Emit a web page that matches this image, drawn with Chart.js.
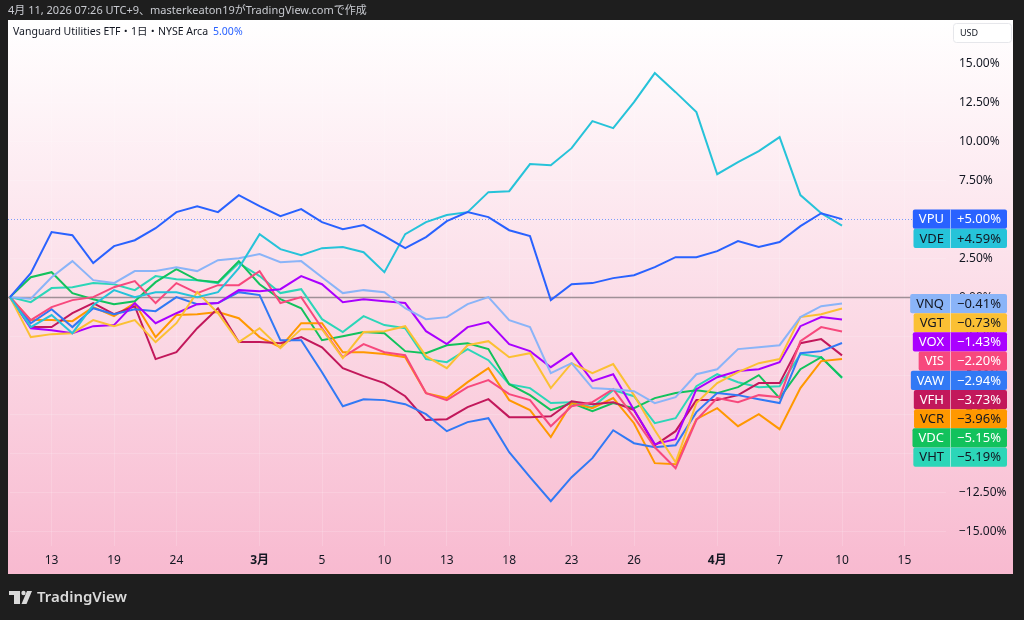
<!DOCTYPE html>
<html lang="ja">
<head>
  <meta charset="UTF-8" />
  <title>Vanguard Sector ETFs - Comparison</title>
  <script src="https://cdn.jsdelivr.net/npm/chart.js"></script>
  <style>
    html, body { margin: 0; padding: 0; background: #1e1e1e; }
    canvas { display: block; }
  </style>
</head>
<body>
  <canvas id="compareChart" width="1024" height="620"></canvas>

  <script>
    // trading days on the time axis (last five are empty future space)
    const days = ['2/11','2/12','2/13','2/17','2/18','2/19','2/20','2/23','2/24','2/25','2/26','2/27',
      '3/2','3/3','3/4','3/5','3/6','3/9','3/10','3/11','3/12','3/13','3/16','3/17','3/18','3/19','3/20',
      '3/23','3/24','3/25','3/26','3/27','3/30','3/31',
      '4/1','4/2','4/6','4/7','4/8','4/9','4/10','4/13','4/14','4/15','4/16','4/17'];
    const xTicks = { '2/13': '13', '2/19': '19', '2/24': '24', '3/2': '3月', '3/5': '5', '3/10': '10',
      '3/13': '13', '3/18': '18', '3/23': '23', '3/26': '26', '4/1': '4月', '4/7': '7', '4/10': '10', '4/15': '15' };
    const monthTicks = ['3月', '4月'];

    const tickers = ['VPU', 'VDE', 'VNQ', 'VGT', 'VOX', 'VIS', 'VAW', 'VFH', 'VCR', 'VDC', 'VHT'];

    // % change since 2/11
    const vpu = [0, 1.54, 4.17, 3.97, 2.18, 3.27, 3.65, 4.42, 5.45, 5.83, 5.45, 6.54, 5.83, 5.19, 5.64, 4.81, 4.36, 4.62, 3.91, 3.14, 3.85, 4.87, 5.45, 5.13, 4.29, 3.91, -0.19, 0.83, 0.90, 1.22, 1.41, 1.92, 2.56, 2.56, 2.95, 3.59, 3.21, 3.53, 4.55, 5.38, 5.00];
    const vde = [0, -1.92, -1.15, -2.31, -0.51, 0.45, 0, 0.32, 0.32, 0, 0.32, 1.86, 4.04, 3.08, 2.69, 3.14, 3.21, 2.88, 1.60, 4.04, 4.81, 5.26, 5.45, 6.73, 6.79, 8.53, 8.46, 9.55, 11.28, 10.83, 12.50, 14.36, 13.14, 11.86, 7.88, 8.65, 9.36, 10.26, 6.54, 5.38, 4.59];
    const vnq = [0, -0.10, 1.28, 2.31, 1.09, 0.90, 1.67, 1.67, 1.92, 1.67, 2.37, 2.50, 2.76, 2.24, 2.31, 1.28, 0.26, 0.45, 0.32, -0.71, -1.41, -1.28, -0.45, 0.0, -1.47, -1.92, -4.87, -4.23, -5.83, -5.90, -6.03, -6.79, -6.41, -4.94, -4.62, -3.33, -3.21, -3.08, -1.28, -0.58, -0.41];
    const vgt = [0, -2.56, -2.37, -2.31, -1.47, -1.86, -1.47, -2.88, -1.67, 0.32, -1.03, -2.88, -1.99, -3.27, -2.05, -2.05, -3.91, -2.24, -2.18, -1.86, -3.78, -4.55, -3.08, -2.82, -3.85, -3.59, -5.83, -4.23, -4.87, -4.29, -6.28, -8.53, -10.58, -6.79, -5.51, -4.81, -4.23, -3.97, -1.28, -1.09, -0.73];
    const vox = [0, -1.99, -2.12, -2.31, -1.86, -1.79, -0.38, -1.67, -1.03, -0.45, -0.38, 0.45, 0.38, 0.51, 1.35, 0.83, -0.32, -0.13, -0.26, -0.38, -2.18, -3.01, -1.92, -1.60, -3.01, -3.46, -4.49, -3.59, -5.38, -4.94, -7.24, -9.42, -9.10, -5.90, -5.13, -4.74, -4.62, -4.17, -1.86, -1.28, -1.43];
    const vis = [0, -1.47, -0.64, -0.19, 0, 0.64, 1.03, -0.38, 0.90, 0.26, 0.77, 0.77, 1.67, -0.38, 0, -1.99, -3.85, -3.01, -3.53, -3.72, -6.15, -6.60, -5.77, -5.32, -6.22, -6.60, -8.27, -6.99, -6.73, -5.90, -7.69, -9.62, -10.96, -7.88, -6.47, -6.73, -6.28, -6.41, -2.82, -1.92, -2.20];
    const vaw = [0, -1.67, -0.77, -1.92, -0.71, -1.09, -0.77, -0.90, 0, -0.45, -0.38, 0.32, 0.13, -2.76, -2.76, -4.81, -6.99, -6.54, -6.60, -6.86, -7.50, -8.59, -8.01, -7.76, -9.94, -11.54, -13.08, -11.54, -10.32, -8.53, -9.36, -9.62, -9.49, -7.37, -6.15, -6.28, -6.54, -6.79, -3.59, -3.46, -2.94];
    const vfh = [0, -1.92, -1.92, -1.03, -0.38, -1.09, -0.58, -3.97, -3.53, -1.99, -0.71, -2.88, -2.88, -2.95, -2.56, -3.21, -4.55, -5.06, -5.51, -6.35, -7.88, -7.82, -7.05, -6.54, -7.69, -7.69, -7.63, -6.67, -6.86, -6.73, -7.24, -9.49, -8.59, -6.60, -6.60, -6.28, -5.51, -5.51, -2.95, -2.69, -3.73];
    const vcr = [0, -1.47, -1.47, -1.54, -0.64, -1.22, -0.38, -2.56, -1.15, -1.09, -0.96, -1.35, -2.56, -3.21, -1.67, -1.67, -3.53, -3.53, -3.65, -3.85, -6.15, -6.47, -5.45, -4.55, -6.60, -7.24, -8.97, -6.79, -7.12, -6.47, -8.08, -10.64, -10.71, -7.82, -7.12, -8.27, -7.50, -8.46, -5.83, -4.10, -3.96];
    const vdc = [0, 1.28, 1.60, 0.26, -0.13, -0.45, -0.26, 0.96, 1.79, 1.09, 0.96, 2.31, 0.83, -0.13, -0.71, -2.76, -2.50, -2.24, -2.31, -3.46, -3.59, -3.08, -2.95, -3.33, -5.58, -6.28, -7.24, -6.79, -7.31, -6.79, -7.12, -6.47, -6.15, -5.96, -6.15, -5.77, -5.00, -6.47, -4.62, -3.85, -5.15];
    const vht = [0, -0.32, 0.58, 0.64, 0.90, 0.83, 0.45, 1.35, 1.15, 1.09, 0.90, 2.18, 1.35, 0.26, 0.51, -1.41, -2.24, -1.22, -1.79, -1.99, -3.97, -4.17, -3.33, -4.04, -5.58, -5.83, -6.79, -6.73, -7.05, -5.96, -6.35, -8.08, -7.76, -5.71, -4.94, -5.45, -5.77, -5.71, -3.65, -3.85, -5.19];

    const series = [vpu, vde, vnq, vgt, vox, vis, vaw, vfh, vcr, vdc, vht];

    // line / tag colours and tag text colours
    const colors = ['#2962ff', '#26c3d9', '#8ab4f8', '#fbc034', '#aa00ff', '#f7497d', '#3179f5', '#c2185b', '#ff9800', '#12c25c', '#2cd6b8'];
    const tagText = ['#ffffff', '#131722', '#131722', '#131722', '#ffffff', '#ffffff', '#ffffff', '#ffffff', '#131722', '#ffffff', '#131722'];

    const FONT = '"Noto Sans", "Noto Sans CJK JP", sans-serif';
    const fmtAxis = v => (v < 0 ? '\u2212' : '') + Math.abs(v).toFixed(2) + '%';
    const fmtChange = v => (v >= 0 ? '+' : '\u2212') + Math.abs(v).toFixed(2) + '%';

    const tvFrame = {
      id: 'tvFrame',
      beforeDraw(chart) {
        const c = chart.ctx;
        c.save();
        c.fillStyle = '#1e1e1e';
        c.fillRect(0, 0, chart.width, chart.height);
        const g = c.createLinearGradient(0, 20, 0, 574);
        g.addColorStop(0, '#ffffff');
        g.addColorStop(1, '#f8bad0');
        c.fillStyle = g;
        c.fillRect(8, 20, 1005, 554);

        c.textBaseline = 'middle';
        c.textAlign = 'left';
        c.fillStyle = '#c9cbd1';
        c.font = '11px ' + FONT;
        c.fillText('4月 11, 2026 07:26 UTC+9、masterkeaton19がTradingView.comで作成', 8, 11);

        // TradingView logo
        c.fillStyle = '#dadada';
        c.fillRect(9, 591, 11, 4);
        c.fillRect(14, 591, 6, 13);
        c.beginPath(); c.arc(23.5, 593, 2.2, 0, Math.PI * 2); c.fill();
        c.beginPath();
        c.moveTo(27, 591); c.lineTo(32, 591); c.lineTo(26.5, 604); c.lineTo(21.5, 604);
        c.closePath(); c.fill();
        c.font = '600 15px ' + FONT;
        c.fillText('TradingView', 37, 598);
        c.restore();
      },
      beforeDatasetsDraw(chart) {
        const c = chart.ctx, y = chart.scales.y;
        c.save();
        const y0 = Math.round(y.getPixelForValue(0)) + 0.5;
        c.strokeStyle = 'rgba(120,110,116,0.7)';
        c.lineWidth = 1.5;
        c.beginPath(); c.moveTo(8, y0); c.lineTo(950, y0); c.stroke();
        const yv = Math.round(y.getPixelForValue(vpu[vpu.length - 1])) + 0.5;
        c.setLineDash([1, 2]);
        c.strokeStyle = 'rgba(41,98,255,0.6)';
        c.lineWidth = 1;
        c.beginPath(); c.moveTo(8, yv); c.lineTo(950, yv); c.stroke();
        c.restore();
      },
      afterDraw(chart) {
        const c = chart.ctx, y = chart.scales.y;
        c.save();
        c.textBaseline = 'middle';

        // legend line
        c.textAlign = 'left';
        c.font = '10.5px ' + FONT;
        c.fillStyle = '#131722';
        const title = 'Vanguard Utilities ETF・1日・NYSE Arca';
        c.fillText(title, 13, 32);
        c.fillStyle = '#2962ff';
        c.fillText(fmtAxis(vpu[vpu.length - 1]), 13 + c.measureText(title).width + 5, 32);

        // currency box
        c.fillStyle = '#ffffff';
        c.strokeStyle = '#e6e7eb';
        c.beginPath(); c.roundRect(953.5, 23.5, 58, 19, 3); c.fill(); c.stroke();
        c.fillStyle = '#131722';
        c.font = '9px ' + FONT;
        c.fillText('USD', 960, 33);

        // last-value tags, stacked so they do not overlap
        const h = 19.2;
        const tags = tickers.map((t, i) => ({ t, i, v: series[i][series[i].length - 1] }))
          .sort((a, b) => b.v - a.v);
        let prevBottom = -Infinity;
        c.font = '13px ' + FONT;
        c.textAlign = 'center';
        tags.forEach(d => {
          let top = y.getPixelForValue(d.v) - h / 2;
          if (top < prevBottom) top = prevBottom;
          prevBottom = top + h;
          const left = 950 - c.measureText(d.t).width - 12;
          c.fillStyle = colors[d.i];
          c.beginPath(); c.roundRect(left, top, 1007 - left, h, 2); c.fill();
          c.fillStyle = 'rgba(255,255,255,0.55)';
          c.fillRect(950, top, 1, h);
          c.fillStyle = tagText[d.i];
          c.fillText(d.t, (left + 950) / 2, top + h / 2 + 0.5);
          c.fillText(fmtChange(d.v), 979, top + h / 2 + 0.5);
        });
        c.restore();
      }
    };

    const ctx = document.getElementById('compareChart').getContext('2d');
    new Chart(ctx, {
      type: 'line',
      data: {
        labels: days,
        datasets: series.map((s, i) => ({
          label: tickers[i],
          data: s,
          borderColor: colors[i],
          borderWidth: 2,
          pointRadius: 0,
          tension: 0,
          fill: false
        }))
      },
      options: {
        responsive: false,
        animation: false,
        layout: { padding: { left: 10, top: 21, right: 0, bottom: 45 } },
        plugins: { legend: { display: false }, tooltip: { enabled: false } },
        scales: {
          x: {
            type: 'category',
            border: { display: false },
            grid: {
              drawTicks: false,
              color: c => xTicks[days[c.index]] ? 'rgba(255,255,255,0.16)' : 'rgba(0,0,0,0)'
            },
            ticks: {
              autoSkip: false,
              maxRotation: 0,
              padding: 7,
              color: '#131722',
              font: c => ({
                family: FONT, size: 12,
                weight: monthTicks.includes(c.tick && c.tick.label) ? 'bold' : 'normal'
              }),
              callback(value) { return xTicks[this.getLabelForValue(value)] || ''; }
            },
            afterFit(s) { s.height = 29; }
          },
          y: {
            position: 'right',
            min: -15.95,
            max: 17.7,
            border: { display: false },
            grid: { drawTicks: false, color: 'rgba(255,255,255,0.16)' },
            ticks: {
              stepSize: 2.5,
              includeBounds: false,
              padding: 13,
              color: '#131722',
              font: { family: FONT, size: 12 },
              callback: v => (v > 16 ? '' : fmtAxis(v))
            },
            afterFit(s) { s.width = 78; }
          }
        }
      },
      plugins: [tvFrame]
    });
  </script>
</body>
</html>
